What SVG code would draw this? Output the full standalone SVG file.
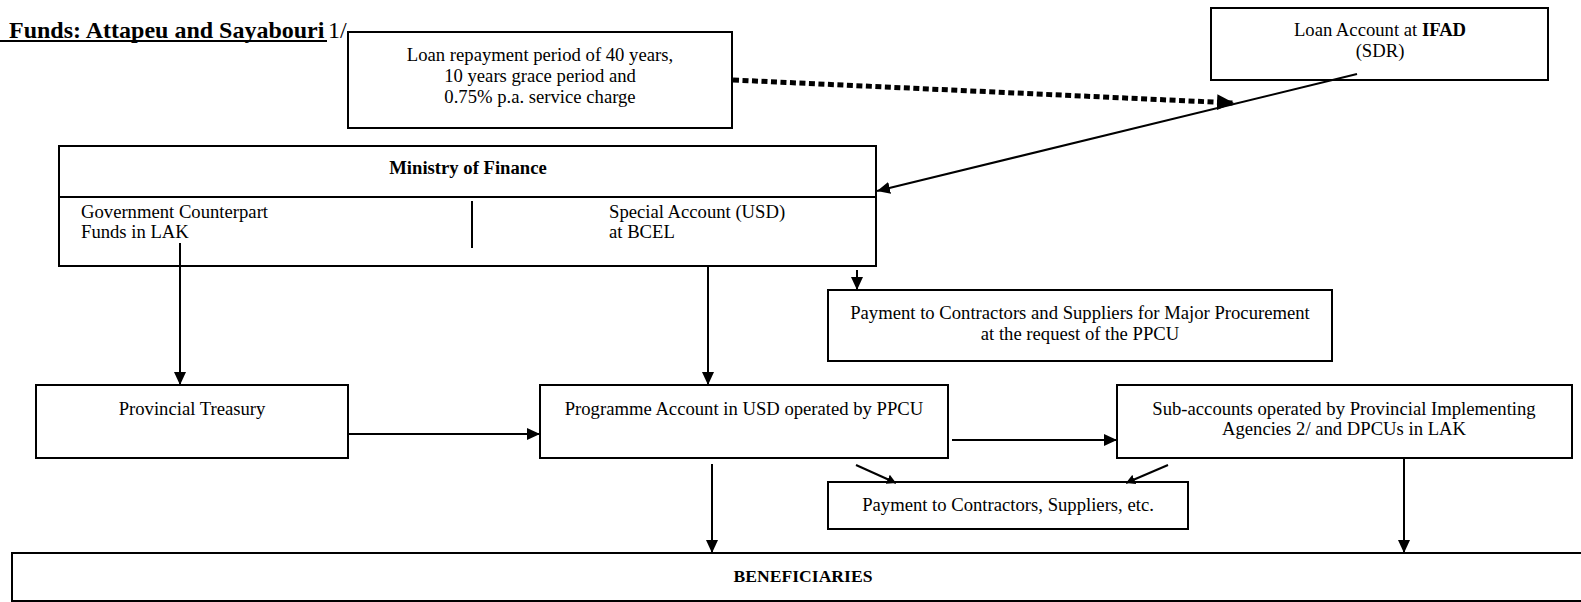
<svg xmlns="http://www.w3.org/2000/svg" width="1581" height="602" viewBox="0 0 1581 602">
<style>
.box{fill:#fff;stroke:#000;stroke-width:2}
.t{font-family:"Liberation Serif","Times New Roman",serif;font-size:18.67px;fill:#000}
.c{text-anchor:middle}
.b{font-weight:bold}
.ln{stroke:#000;stroke-width:2;fill:none}
</style>
<defs>
<marker id="ah" markerUnits="userSpaceOnUse" markerWidth="14" markerHeight="12" refX="13" refY="6" orient="auto"><path d="M0,0 L13,6 L0,12 z" fill="#000"/></marker>
<marker id="ahs" markerUnits="userSpaceOnUse" markerWidth="10" markerHeight="10" refX="9" refY="5" orient="auto"><path d="M0,0 L9,5 L0,10 z" fill="#000"/></marker>
<marker id="ahb" markerUnits="userSpaceOnUse" markerWidth="18" markerHeight="16" refX="17" refY="8" orient="auto"><path d="M0,0 L17,8 L0,16 z" fill="#000"/></marker>
</defs>
<rect width="1581" height="602" fill="#fff"/>
<g id="title">
<text x="9" y="38" class="t b" style="font-size:24px">Funds: Attapeu and Sayabouri</text>
<line x1="0" y1="41" x2="327" y2="41" class="ln"/>
<text x="328" y="38" class="t" style="font-size:24px">1/</text>
</g>
<g id="loan-terms">
<rect x="348" y="32" width="384" height="96" class="box"/>
<text x="540" y="61" class="t c">Loan repayment period of 40 years,</text>
<text x="540" y="82" class="t c">10 years grace period and</text>
<text x="540" y="103" class="t c">0.75% p.a. service charge</text>
</g>
<g id="ifad">
<rect x="1211" y="8" width="337" height="72" class="box"/>
<text x="1380" y="36" class="t c">Loan Account at <tspan class="b">IFAD</tspan></text>
<text x="1380" y="57" class="t c">(SDR)</text>
</g>
<g id="mof">
<rect x="59" y="146" width="817" height="120" class="box"/>
<line x1="59" y1="197" x2="876" y2="197" class="ln"/>
<line x1="472" y1="201" x2="472" y2="248" class="ln"/>
<text x="468" y="174" class="t c b">Ministry of Finance</text>
<text x="81" y="218" class="t">Government Counterpart</text>
<text x="81" y="238" class="t">Funds in LAK</text>
<text x="609" y="218" class="t">Special Account (USD)</text>
<text x="609" y="238" class="t">at BCEL</text>
</g>
<g id="major-procurement">
<rect x="828" y="290" width="504" height="71" class="box"/>
<text x="1080" y="319" class="t c">Payment to Contractors and Suppliers for Major Procurement</text>
<text x="1080" y="340" class="t c">at the request of the PPCU</text>
</g>
<g id="treasury">
<rect x="36" y="385" width="312" height="73" class="box"/>
<text x="192" y="415" class="t c">Provincial Treasury</text>
</g>
<g id="programme">
<rect x="540" y="385" width="408" height="73" class="box"/>
<text x="744" y="415" class="t c">Programme Account in USD operated by PPCU</text>
</g>
<g id="subaccounts">
<rect x="1117" y="385" width="455" height="73" class="box"/>
<text x="1344" y="415" class="t c">Sub-accounts operated by Provincial Implementing</text>
<text x="1344" y="435" class="t c">Agencies 2/ and DPCUs in LAK</text>
</g>
<g id="payment">
<rect x="828" y="482" width="360" height="47" class="box"/>
<text x="1008" y="511" class="t c">Payment to Contractors, Suppliers, etc.</text>
</g>
<g id="beneficiaries">
<rect x="12" y="553" width="1600" height="48" class="box"/>
<text x="803" y="582" class="t c b" style="font-size:17.6px">BENEFICIARIES</text>
</g>
<g id="connectors">
<line x1="733" y1="80" x2="1234" y2="103" stroke="#000" stroke-width="5" stroke-dasharray="6 3.5" marker-end="url(#ahb)"/>
<line x1="1357" y1="74" x2="877" y2="191" class="ln" marker-end="url(#ah)"/>
<line x1="180" y1="243" x2="180" y2="385" class="ln" marker-end="url(#ah)"/>
<line x1="708" y1="266" x2="708" y2="385" class="ln" marker-end="url(#ah)"/>
<line x1="857" y1="270" x2="857" y2="290" class="ln" marker-end="url(#ah)"/>
<line x1="348" y1="434" x2="540" y2="434" class="ln" marker-end="url(#ah)"/>
<line x1="952" y1="440" x2="1117" y2="440" class="ln" marker-end="url(#ah)"/>
<line x1="712" y1="464" x2="712" y2="553" class="ln" marker-end="url(#ah)"/>
<line x1="1404" y1="458" x2="1404" y2="553" class="ln" marker-end="url(#ah)"/>
<line x1="856" y1="465" x2="896" y2="483" class="ln" marker-end="url(#ahs)"/>
<line x1="1168" y1="465" x2="1126" y2="483" class="ln" marker-end="url(#ahs)"/>
</g>
</svg>
